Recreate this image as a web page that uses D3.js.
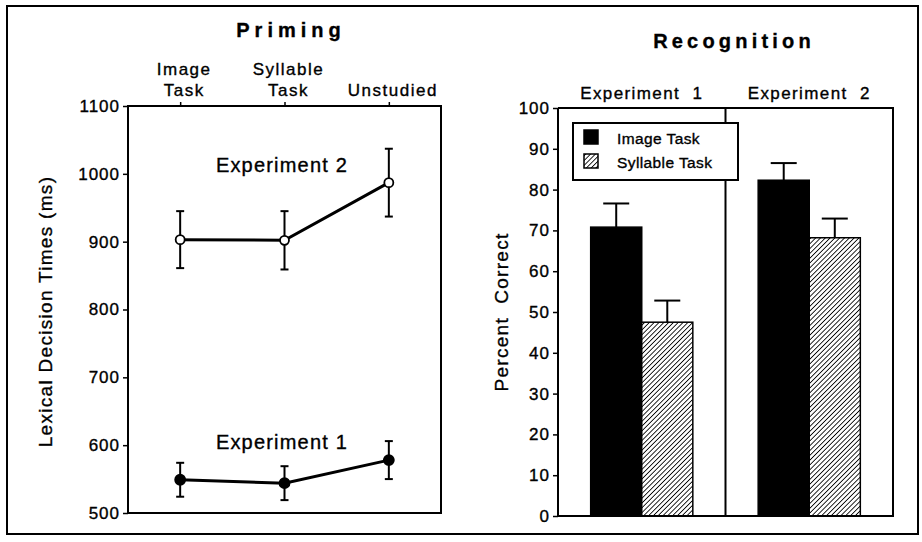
<!DOCTYPE html>
<html>
<head>
<meta charset="utf-8">
<script src="https://cdn.jsdelivr.net/npm/d3@7"></script>
<style>
  body { margin: 0; background: #fff; }
  svg text { font-family: "Liberation Sans", Arial, Helvetica, sans-serif; fill: #000; stroke: #000; stroke-width: 0.35px; }
</style>
</head>
<body>
<svg id="chart" width="922" height="542"></svg>
<script>
// priming panel data (lexical decision times, ms)
var conditions = ['Image Task', 'Syllable Task', 'Unstudied'],
    conditionLines = [['Image', 'Task'], ['Syllable', 'Task'], ['Unstudied']],
    exp1Times = [549, 544, 578],
    exp1Err = [25, 25, 28],
    exp2Times = [903, 902, 987],
    exp2Err = [42, 43, 50],
    timeTicks = [500, 600, 700, 800, 900, 1000, 1100];

// recognition panel data (percent correct)
var experiments = ['Experiment  1', 'Experiment  2'],
    tasks = ['Image Task', 'Syllable Task'],
    imageCorrect = [70.8, 82.3],
    imageErr = [5.8, 4.2],
    syllableCorrect = [47.5, 68.2],
    syllableErr = [5.3, 4.7],
    percentTicks = [0, 10, 20, 30, 40, 50, 60, 70, 80, 90, 100];

var svg = d3.select('#chart');

svg.append('rect')
    .attr('width', 922).attr('height', 542).attr('fill', '#fff');

// hatch for the syllable bars
svg.append('defs').append('pattern')
    .attr('id', 'hatch')
    .attr('patternUnits', 'userSpaceOnUse')
    .attr('width', 3.4).attr('height', 3.4)
    .attr('patternTransform', 'rotate(45)')
    .call(function (p) {
        p.append('rect').attr('width', 3.4).attr('height', 3.4).attr('fill', '#fff');
        p.append('line').attr('x1', 0).attr('y1', 0).attr('x2', 0).attr('y2', 3.4)
            .attr('stroke', '#000').attr('stroke-width', 1.7);
    });

// outer frame
svg.append('rect')
    .attr('x', 7).attr('y', 6).attr('width', 911).attr('height', 528)
    .attr('fill', 'none').attr('stroke', '#000').attr('stroke-width', 2);

/* ---------- Priming ---------- */
var left = {x0: 128, x1: 441, y0: 106, y1: 513};

var xL = d3.scalePoint().domain(conditions).range([left.x0, left.x1]).padding(0.5),
    yL = d3.scaleLinear().domain([500, 1100]).range([left.y1, left.y0]);

svg.append('text')
    .attr('x', 291).attr('y', 37)
    .attr('text-anchor', 'middle')
    .style('font-size', '20px').style('font-weight', 'bold').style('letter-spacing', '5px')
    .text('Priming');

svg.append('rect')
    .attr('x', left.x0).attr('y', left.y0)
    .attr('width', left.x1 - left.x0).attr('height', left.y1 - left.y0)
    .attr('fill', 'none').attr('stroke', '#000').attr('stroke-width', 2);

var yAxisL = svg.append('g')
    .attr('transform', 'translate(' + left.x0 + ',0)')
    .call(d3.axisLeft(yL).tickValues(timeTicks).tickSize(5).tickPadding(3).tickFormat(d3.format('d')));
yAxisL.select('.domain').remove();
yAxisL.selectAll('line').attr('stroke-width', 1.5);
yAxisL.selectAll('text')
    .style('font-size', '17px').style('letter-spacing', '1px');

var xAxisL = svg.append('g')
    .attr('transform', 'translate(0,' + left.y0 + ')')
    .call(d3.axisTop(xL).tickSize(4).tickFormat(''));
xAxisL.select('.domain').remove();
xAxisL.selectAll('line').attr('stroke-width', 1.5);

// two-line category labels above the box
conditions.forEach(function (c, i) {
    var lines = conditionLines[i],
        t = svg.append('text')
            .attr('text-anchor', 'middle')
            .style('font-size', '17px').style('letter-spacing', '1.5px');
    lines.forEach(function (s, j) {
        t.append('tspan')
            .attr('x', xL(c) + 4)
            .attr('y', 96 - (lines.length - 1 - j) * 21)
            .text(s);
    });
});

svg.append('text')
    .attr('transform', 'translate(52,' + ((left.y0 + left.y1) / 2 + 2) + ') rotate(-90)')
    .attr('text-anchor', 'middle')
    .style('font-size', '19px').style('letter-spacing', '1.3px')
    .text('Lexical Decision Times (ms)');

function drawSeries(values, errs, filled, label, labelY) {
    var g = svg.append('g'),
        pts = values.map(function (v, i) { return {c: conditions[i], v: v, e: errs[i]}; });

    g.selectAll('line.err').data(pts).enter().append('line')
        .attr('x1', function (d) { return xL(d.c); })
        .attr('x2', function (d) { return xL(d.c); })
        .attr('y1', function (d) { return yL(d.v - d.e); })
        .attr('y2', function (d) { return yL(d.v + d.e); })
        .attr('stroke', '#000').attr('stroke-width', 2);

    [-1, 1].forEach(function (s) {
        g.selectAll(null).data(pts).enter().append('line')
            .attr('x1', function (d) { return xL(d.c) - 4; })
            .attr('x2', function (d) { return xL(d.c) + 4; })
            .attr('y1', function (d) { return yL(d.v + s * d.e); })
            .attr('y2', function (d) { return yL(d.v + s * d.e); })
            .attr('stroke', '#000').attr('stroke-width', 2);
    });

    g.append('path').datum(pts)
        .attr('fill', 'none').attr('stroke', '#000').attr('stroke-width', 3)
        .attr('d', d3.line().x(function (d) { return xL(d.c); }).y(function (d) { return yL(d.v); }));

    g.selectAll('circle').data(pts).enter().append('circle')
        .attr('cx', function (d) { return xL(d.c); })
        .attr('cy', function (d) { return yL(d.v); })
        .attr('r', filled ? 5 : 4.5)
        .attr('fill', filled ? '#000' : '#fff')
        .attr('stroke', '#000').attr('stroke-width', 1.8);

    svg.append('text')
        .attr('x', 282).attr('y', labelY)
        .attr('text-anchor', 'middle')
        .style('font-size', '20px').style('letter-spacing', '1.2px')
        .style('white-space', 'pre')
        .text(label);
}

drawSeries(exp2Times, exp2Err, false, 'Experiment 2', 172);
drawSeries(exp1Times, exp1Err, true, 'Experiment 1', 449);

/* ---------- Recognition ---------- */
var right = {x0: 558, x1: 893, y0: 108, y1: 516};

var x0 = d3.scaleBand().domain(experiments).range([right.x0, right.x1]),
    x1 = d3.scaleBand().domain(tasks).range([0, x0.bandwidth()]).paddingOuter(0.64),
    yR = d3.scaleLinear().domain([0, 100]).range([right.y1, right.y0]);

svg.append('text')
    .attr('x', 734).attr('y', 48)
    .attr('text-anchor', 'middle')
    .style('font-size', '20px').style('font-weight', 'bold').style('letter-spacing', '4.2px')
    .text('Recognition');

svg.selectAll('text.exp').data(experiments).enter().append('text')
    .attr('class', 'exp')
    .attr('x', function (d) { return x0(d) + x0.bandwidth() / 2; })
    .attr('y', 99)
    .attr('text-anchor', 'middle')
    .style('font-size', '17px').style('letter-spacing', '1.4px')
    .style('white-space', 'pre')
    .text(function (d) { return d; });

var yAxisR = svg.append('g')
    .attr('transform', 'translate(' + right.x0 + ',0)')
    .call(d3.axisLeft(yR).tickValues(percentTicks).tickSize(5).tickPadding(3));
yAxisR.selectAll('line').attr('stroke-width', 1.5);
yAxisR.select('.domain').attr('stroke-width', 2).attr('d', 'M0,' + right.y0 + 'V' + right.y1);
yAxisR.selectAll('text')
    .style('font-size', '17px').style('letter-spacing', '1px');

svg.append('text')
    .attr('transform', 'translate(508,' + ((right.y0 + right.y1) / 2 + 0) + ') rotate(-90)')
    .attr('text-anchor', 'middle')
    .style('font-size', '19px').style('letter-spacing', '1.3px')
    .style('white-space', 'pre')
    .text('Percent  Correct');

var groups = experiments.map(function (e, i) {
    return [
        {exp: e, task: tasks[0], v: imageCorrect[i], e: imageErr[i]},
        {exp: e, task: tasks[1], v: syllableCorrect[i], e: syllableErr[i]}
    ];
});
var bars = [].concat.apply([], groups);

function barX(d) { return x0(d.exp) + x1(d.task); }

svg.selectAll('line.berr').data(bars).enter().append('line')
    .attr('x1', function (d) { return barX(d) + x1.bandwidth() / 2; })
    .attr('x2', function (d) { return barX(d) + x1.bandwidth() / 2; })
    .attr('y1', function (d) { return yR(d.v); })
    .attr('y2', function (d) { return yR(d.v + d.e); })
    .attr('stroke', '#000').attr('stroke-width', 2);

svg.selectAll('line.bcap').data(bars).enter().append('line')
    .attr('x1', function (d) { return barX(d) + x1.bandwidth() / 2 - 13; })
    .attr('x2', function (d) { return barX(d) + x1.bandwidth() / 2 + 13; })
    .attr('y1', function (d) { return yR(d.v + d.e); })
    .attr('y2', function (d) { return yR(d.v + d.e); })
    .attr('stroke', '#000').attr('stroke-width', 2);

svg.selectAll('rect.bar').data(bars).enter().append('rect')
    .attr('x', barX)
    .attr('y', function (d) { return yR(d.v); })
    .attr('width', x1.bandwidth())
    .attr('height', function (d) { return yR(0) - yR(d.v); })
    .attr('fill', function (d) { return d.task === tasks[0] ? '#000' : 'url(#hatch)'; })
    .attr('stroke', '#000').attr('stroke-width', 1.5);

// panel frame: top, right, bottom, divider
var frame = svg.append('g').attr('stroke', '#000').attr('stroke-width', 2).attr('fill', 'none');
frame.append('path')
    .attr('d', 'M' + right.x0 + ',' + right.y0 + 'H' + right.x1 + 'V' + right.y1 + 'H' + right.x0);
frame.append('line')
    .attr('x1', x0(experiments[1])).attr('x2', x0(experiments[1]))
    .attr('y1', right.y0).attr('y2', right.y1);

// legend
var legend = svg.append('g').attr('transform', 'translate(573,123)');
legend.append('rect')
    .attr('width', 165).attr('height', 57)
    .attr('fill', '#fff').attr('stroke', '#000').attr('stroke-width', 2);
tasks.forEach(function (t, i) {
    legend.append('rect')
        .attr('x', 11).attr('y', 7 + i * 24)
        .attr('width', 14).attr('height', 14)
        .attr('fill', i === 0 ? '#000' : 'url(#hatch)')
        .attr('stroke', '#000').attr('stroke-width', 1.5);
    legend.append('text')
        .attr('x', 44).attr('y', 21 + i * 24)
        .style('font-size', '15.5px').style('letter-spacing', '0.4px')
        .text(t);
});
</script>
</body>
</html>
